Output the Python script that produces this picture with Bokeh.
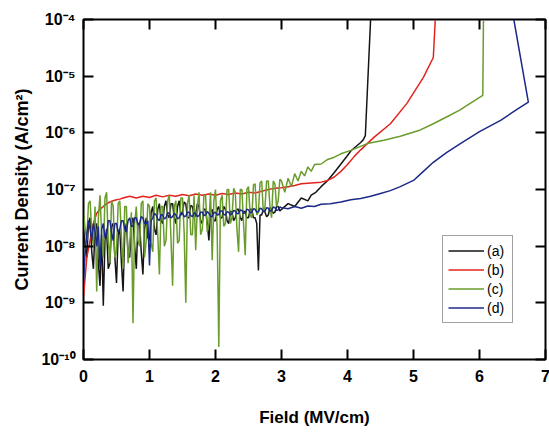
import numpy as np
from bokeh.plotting import figure
from bokeh.models import LinearAxis, LogAxis, FixedTicker, CustomJSTickFormatter, CustomLabelingPolicy
from bokeh.embed import file_html
from bokeh.resources import INLINE

# ---------------- data (J values given as log10 of A/cm^2) -------------
field_fine = [0.000, 0.025, 0.050, 0.075, 0.100, 0.125, 0.150, 0.175, 0.200, 0.225,
              0.250, 0.275, 0.300, 0.325, 0.350, 0.375, 0.400, 0.425, 0.450, 0.475,
              0.500, 0.525, 0.550, 0.575, 0.600, 0.625, 0.650, 0.675, 0.700, 0.725,
              0.750, 0.775, 0.800, 0.825, 0.850, 0.875, 0.900, 0.925, 0.950, 0.975,
              1.000, 1.025, 1.050, 1.075, 1.100, 1.125, 1.150, 1.175, 1.200, 1.225,
              1.250, 1.275, 1.300, 1.325, 1.350, 1.375, 1.400, 1.425, 1.450, 1.475,
              1.500, 1.525, 1.550, 1.575, 1.600, 1.625, 1.650, 1.675, 1.700, 1.725,
              1.750, 1.775, 1.800, 1.825, 1.850, 1.875, 1.900, 1.925, 1.950, 1.975,
              2.000, 2.025, 2.050, 2.075, 2.100, 2.125, 2.150, 2.175, 2.200, 2.225,
              2.250, 2.275, 2.300, 2.325, 2.350, 2.375, 2.400, 2.425, 2.450, 2.475,
              2.500, 2.525, 2.550, 2.575, 2.600, 2.625, 2.650, 2.675, 2.700, 2.725,
              2.750, 2.775, 2.800, 2.825, 2.850, 2.875, 2.900, 2.925, 2.950, 2.975,
              3.000]

a_noisy_log = [-7.70, -8.00, -8.20, -7.60, -7.50, -8.10, -8.40, -7.70, -7.60, -8.30,
               -8.70, -7.80, -9.05, -7.90, -7.70, -8.40, -8.30, -7.65, -7.60, -8.20,
               -8.65, -7.80, -7.70, -8.30, -8.80, -7.75, -7.60, -8.10, -8.20, -7.60,
               -7.50, -8.00, -8.40, -7.60, -7.60, -8.10, -8.50, -7.70, -7.50, -7.85,
               -7.90, -7.40, -7.30, -7.70, -7.80, -7.35, -7.25, -7.55, -7.60, -7.30,
               -7.20, -7.45, -7.50, -7.25, -7.25, -7.50, -7.60, -7.30, -7.20, -7.45,
               -7.40, -7.22, -7.25, -7.50, -7.50, -7.28, -7.30, -7.50, -7.45, -7.25,
               -7.30, -7.55, -7.60, -7.35, -7.35, -7.60, -7.90, -7.40, -7.35, -7.55,
               -7.55, -7.35, -7.30, -7.50, -7.50, -7.30, -7.35, -7.55, -7.60, -7.38,
               -7.40, -7.55, -7.50, -7.35, -7.35, -7.50, -7.55, -7.38, -7.40, -7.50,
               -7.50, -7.35, -7.35, -7.50, -7.50, -7.60, -8.43, -7.45, -7.45, -7.35,
               -7.40, -7.48, -7.45, -7.32, -7.35, -7.42, -7.40, -7.30, -7.30, -7.38,
               -7.35]
a_tail_field = [3.10, 3.20, 3.30, 3.40, 3.45, 3.52, 3.60, 3.70, 3.80, 3.90,
                4.00, 4.05, 4.12, 4.20, 4.24, 4.27, 4.35]
a_tail_log = [-7.25, -7.30, -7.15, -7.20, -7.10, -7.05, -6.95, -6.84, -6.70, -6.55,
              -6.40, -6.32, -6.25, -6.17, -6.12, -6.05, -4.00]

b_field = [0.00, 0.05, 0.10, 0.15, 0.20, 0.25, 0.30, 0.35, 0.40, 0.45, 0.50, 0.55, 0.60,
           0.70, 0.80, 0.90, 1.00, 1.10, 1.20, 1.30, 1.40, 1.50, 1.60, 1.70, 1.80, 1.90,
           2.00, 2.10, 2.20, 2.30, 2.40, 2.50, 2.60, 2.70, 2.80, 2.90, 3.00, 3.10, 3.20, 3.30,
           3.50, 3.60, 3.70, 3.80, 3.90, 4.00, 4.10, 4.20, 4.40, 4.65, 4.90, 5.15, 5.30, 5.33]
b_log = [-8.90, -8.20, -7.90, -7.60, -7.42, -7.35, -7.30, -7.25, -7.22, -7.20, -7.18, -7.17, -7.15,
         -7.12, -7.15, -7.12, -7.14, -7.10, -7.13, -7.10, -7.12, -7.09, -7.11, -7.08, -7.10, -7.08,
         -7.10, -7.07, -7.09, -7.06, -7.08, -7.05, -7.06, -7.03, -7.00, -6.98, -6.97, -6.95, -6.93, -6.90,
         -6.88, -6.87, -6.84, -6.78, -6.68, -6.56, -6.42, -6.30, -6.08, -5.84, -5.48, -5.02, -4.67, -4.00]

c_noisy_log = [-7.40, -7.70, -7.90, -7.25, -7.20, -7.75, -8.00, -7.30, -8.80, -7.50,
               -7.10, -7.80, -8.20, -7.15, -7.05, -7.90, -8.30, -7.20, -7.30, -8.20,
               -8.10, -7.25, -7.20, -7.85, -8.40, -7.30, -7.30, -8.30, -8.00, -7.40,
               -9.36, -7.60, -7.30, -7.90, -8.00, -7.25, -7.20, -8.20, -7.90, -7.25,
               -7.30, -7.95, -8.10, -7.20, -7.15, -7.80, -8.50, -7.30, -7.30, -8.00,
               -7.90, -7.20, -7.10, -7.85, -8.70, -7.30, -7.20, -7.95, -7.90, -7.15,
               -7.15, -7.75, -9.00, -7.25, -7.10, -7.80, -7.80, -7.10, -8.07, -7.30,
               -7.05, -7.80, -7.70, -7.10, -7.10, -7.75, -7.60, -7.05, -8.25, -7.20,
               -7.00, -7.70, -9.78, -7.20, -7.10, -7.65, -7.60, -7.00, -7.00, -7.60,
               -7.50, -6.98, -7.05, -7.70, -8.10, -7.00, -7.00, -7.60, -8.16, -7.00,
               -6.95, -7.45, -7.50, -6.92, -6.90, -7.45, -7.40, -6.88, -6.85, -7.40,
               -7.30, -6.85, -6.85, -7.30, -7.50, -6.85, -6.90, -7.30, -7.20, -6.82,
               -6.85]
c_tail_field = [3.05, 3.10, 3.15, 3.20, 3.25, 3.30, 3.35, 3.40, 3.45, 3.50, 3.60, 3.70,
                3.80, 3.90, 4.05, 4.30, 4.55, 4.80, 5.08, 5.30, 5.50, 5.70, 5.90, 6.05, 6.06]
c_tail_log = [-7.05, -6.80, -6.95, -6.72, -6.85, -6.68, -6.76, -6.60, -6.68, -6.56, -6.55, -6.47,
              -6.43, -6.37, -6.31, -6.19, -6.13, -6.06, -5.96, -5.84, -5.72, -5.60, -5.45, -5.34, -4.00]

d_noisy_log = [-8.66, -8.10, -7.80, -7.55, -7.70, -7.90, -7.60, -7.75, -8.00, -7.65,
               -8.37, -7.70, -7.60, -7.85, -7.80, -7.55, -7.55, -7.75, -7.90, -7.60,
               -7.60, -7.75, -7.70, -7.55, -7.55, -7.70, -7.75, -7.55, -7.50, -7.65,
               -7.65, -7.50, -7.50, -7.62, -7.60, -7.48, -7.50, -7.60, -7.60, -7.55,
               -8.34, -7.55, -7.50, -7.42, -7.45, -7.52, -7.55, -7.44, -7.45, -7.52,
               -7.50, -7.41, -7.42, -7.50, -7.48, -7.42, -7.45, -7.52, -7.50, -7.42,
               -7.42, -7.48, -7.47, -7.40, -7.40, -7.46, -7.48, -7.41, -7.43, -7.48,
               -7.46, -7.40, -7.40, -7.46, -7.45, -7.39, -7.42, -7.47, -7.48, -7.41,
               -7.40, -7.45, -7.44, -7.38, -7.38, -7.44, -7.45, -7.39, -7.40, -7.45,
               -7.43, -7.37, -7.38, -7.43, -7.42, -7.36, -7.37, -7.42, -7.41, -7.35,
               -7.36, -7.41, -7.40, -7.34, -7.35, -7.40, -7.39, -7.33, -7.34, -7.39,
               -7.38, -7.32, -7.33, -7.38, -7.37, -7.31, -7.32, -7.37, -7.36, -7.31,
               -7.32]
d_tail_field = [3.10, 3.20, 3.30, 3.40, 3.50, 3.60, 3.74, 3.90, 4.05, 4.20, 4.35, 4.50,
                4.65, 4.80, 5.00, 5.15, 5.30, 5.50, 5.71, 6.00, 6.32, 6.55, 6.74, 6.52]
d_tail_log = [-7.34, -7.30, -7.33, -7.29, -7.30, -7.26, -7.25, -7.22, -7.18, -7.16, -7.12, -7.07,
              -7.02, -6.95, -6.84, -6.68, -6.52, -6.35, -6.19, -5.98, -5.78, -5.60, -5.46, -4.00]

labels = ["(a)", "(b)", "(c)", "(d)"]
colors = ["#151515", "#e3241e", "#6a9c2c", "#1b2a88"]
x_ticks = [0, 1, 2, 3, 4, 5, 6, 7]
y_ticks = [1e-10, 1e-9, 1e-8, 1e-7, 1e-6, 1e-5, 1e-4]

series = [
    (field_fine + a_tail_field, a_noisy_log + a_tail_log),
    (b_field, b_log),
    (field_fine + c_tail_field, c_noisy_log + c_tail_log),
    (field_fine + d_tail_field, d_noisy_log + d_tail_log),
]

# ---------------- figure ----------------
FONT = "Liberation Sans"
p = figure(output_backend="svg", toolbar_location=None,
           y_axis_type="log", x_range=(0, 7), y_range=(1e-10, 1e-4),
           frame_width=462, frame_height=340,
           min_border_left=83, min_border_right=1, min_border_top=19, min_border_bottom=70)
p.grid.visible = False
p.outline_line_color = "black"
p.outline_line_width = 2

for (fx, fl), lab, col in zip(series, labels, colors):
    p.line(fx, 10.0 ** np.array(fl), line_color=col, line_width=1.5, legend_label=lab)

sup_code = """
const sup = {'-':'\\u207b','0':'\\u2070','1':'\\u00b9','2':'\\u00b2','3':'\\u00b3','4':'\\u2074',
             '5':'\\u2075','6':'\\u2076','7':'\\u2077','8':'\\u2078','9':'\\u2079'};
const e = Math.round(Math.log10(tick));
return '10' + String(e).split('').map(c => sup[c]).join('');
"""

hide_all = """
for (let i = 0; i < indices.size; i++) { indices.unset(i) }
return indices
"""

def style_axis(ax):
    ax.major_tick_in = 10
    ax.major_tick_out = 0
    ax.major_tick_line_width = 2
    ax.major_tick_line_color = "black"
    ax.major_label_text_font = FONT
    ax.major_label_text_font_style = "bold"
    ax.major_label_text_color = "black"
    ax.axis_label_text_font = FONT
    ax.axis_label_text_font_style = "bold"
    ax.axis_label_text_color = "black"

xa = p.xaxis[0]
style_axis(xa)
xa.ticker = FixedTicker(ticks=x_ticks)
xa.major_label_text_font_size = "16px"
xa.major_label_standoff = 10
xa.axis_label = "Field (MV/cm)"
xa.axis_label_text_font_size = "17px"
xa.axis_label_standoff = 23

ya = p.yaxis[0]
style_axis(ya)
ya.ticker = FixedTicker(ticks=y_ticks)
ya.formatter = CustomJSTickFormatter(code=sup_code)
ya.major_label_text_font_size = "16px"
ya.major_label_standoff = 8
ya.axis_label = "Current Density (A/cm\u00b2)"
ya.axis_label_text_font_size = "18px"
ya.axis_label_standoff = 6

top = LinearAxis(ticker=FixedTicker(ticks=x_ticks))
style_axis(top)
top.major_label_text_font_size = "4px"
top.major_label_standoff = 0
top.major_label_policy = CustomLabelingPolicy(code=hide_all)
p.add_layout(top, "above")

right = LogAxis(ticker=FixedTicker(ticks=y_ticks))
style_axis(right)
right.major_label_text_font_size = "4px"
right.major_label_standoff = 0
right.major_label_policy = CustomLabelingPolicy(code=hide_all)
p.add_layout(right, "right")

lg = p.legend[0]
lg.location = (359, 36)
lg.label_text_font = FONT
lg.label_text_font_size = "14px"
lg.label_text_color = "black"
lg.glyph_width = 36
lg.glyph_height = 19
lg.label_height = 19
lg.label_standoff = 3
lg.spacing = 0
lg.padding = 5
lg.margin = 0
lg.border_line_color = "#444444"
lg.border_line_width = 1
lg.background_fill_alpha = 1

open("out.html", "w", encoding="utf-8").write(file_html(p, INLINE))
